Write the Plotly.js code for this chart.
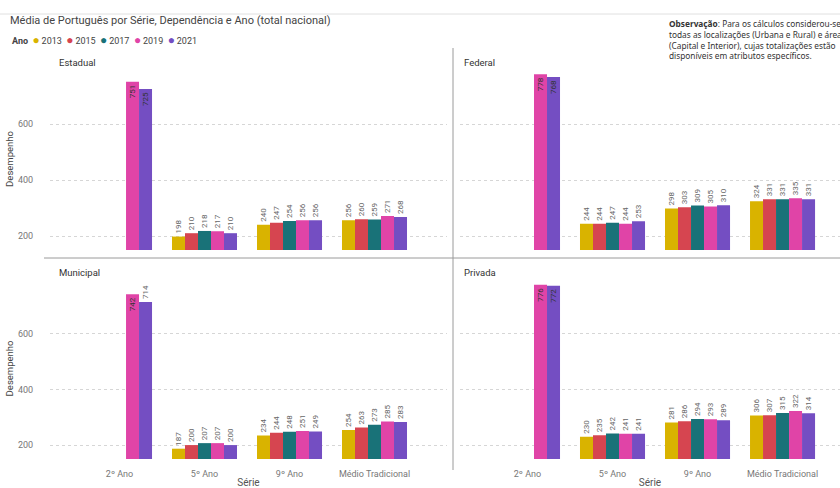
<!DOCTYPE html>
<html>
<head>
<meta charset="utf-8">
<script src="https://cdn.plot.ly/plotly-3.0.1.min.js"></script>
<style>html,body{margin:0;padding:0;background:#fff;}#chart{width:840px;height:488px;}</style>
</head>
<body>
<div id="chart"></div>
<script>
const categories = ['2º Ano', '5º Ano', '9º Ano', 'Médio Tradicional'];
const years = ['2013', '2015', '2017', '2019', '2021'];
const colors = ['#D9B300', '#D64550', '#197278', '#E044A7', '#744EC2'];
const panels = ['Estadual', 'Federal', 'Municipal', 'Privada'];
const yTicks = [200, 400, 600];

// rows = years (2013, 2015, 2017, 2019, 2021), columns = categories
const estadualValues = [
  [null, 198, 240, 256],
  [null, 210, 247, 260],
  [null, 218, 254, 259],
  [751, 217, 256, 271],
  [725, 210, 256, 268]
];
const federalValues = [
  [null, 244, 298, 324],
  [null, 244, 303, 331],
  [null, 247, 309, 331],
  [778, 244, 305, 335],
  [768, 253, 310, 331]
];
const municipalValues = [
  [null, 187, 234, 254],
  [null, 200, 244, 263],
  [null, 207, 248, 273],
  [742, 207, 251, 285],
  [714, 200, 249, 283]
];
const privadaValues = [
  [null, 230, 281, 306],
  [null, 235, 286, 307],
  [null, 242, 294, 315],
  [776, 241, 293, 322],
  [772, 241, 289, 314]
];
const panelValues = [estadualValues, federalValues, municipalValues, privadaValues];

const FONT = 'Roboto, "Noto Sans", sans-serif';
const traces = [];
panelValues.forEach((vals, p) => {
  const sfx = p === 0 ? '' : String(p + 1);
  years.forEach((yr, i) => {
    const y = vals[i];
    traces.push({
      type: 'bar',
      name: yr,
      x: categories,
      y: y,
      xaxis: 'x' + sfx,
      yaxis: 'y' + sfx,
      marker: {color: colors[i]},
      showlegend: false,
      texttemplate: '%{y}',
      textangle: -90,
      textposition: y.map(v => v == null ? 'none' : (v >= 720 ? 'inside' : 'outside')),
      insidetextanchor: 'end',
      constraintext: 'none',
      cliponaxis: false,
      insidetextfont: {family: FONT, size: 8, color: '#333'},
      outsidetextfont: {family: FONT, size: 8, color: '#666'},
      hoverinfo: 'x+y+name'
    });
  });
});

const leftDom = [50 / 840, 447 / 840];
const rightDom = [460 / 840, 1];
const topDom = [(488 - 250) / 488, (488 - 68) / 488];
const botDom = [(488 - 459) / 488, (488 - 278) / 488];
const leftRange = [-0.818, 3.853];
const rightRange = [-0.794, 3.676];
const yRange = [150, 800];

function xax(dom, range, anchor, showLabels) {
  return {
    domain: dom, range: range, anchor: anchor, type: 'category', showgrid: false, zeroline: false,
    showline: false, ticks: showLabels ? 'outside' : '', ticklen: 6, tickcolor: 'rgba(0,0,0,0)',
    showticklabels: showLabels,
    tickfont: {family: FONT, size: 9, color: '#777'},
    title: showLabels ? {text: 'Série', font: {family: FONT, size: 10, color: '#555'}, standoff: 10} : {text: ''},
    fixedrange: true
  };
}
function yax(dom, anchor, showLabels) {
  return {
    domain: dom, range: yRange, anchor: anchor, tickvals: yTicks, showgrid: true,
    gridcolor: '#d6d6d6', griddash: 'dot', gridwidth: 1, zeroline: false, showline: false,
    ticks: showLabels ? 'outside' : '', ticklen: 14, tickcolor: 'rgba(0,0,0,0)',
    showticklabels: showLabels,
    tickfont: {family: FONT, size: 9, color: '#777'},
    title: showLabels ? {text: 'Desempenho', font: {family: FONT, size: 9.5, color: '#444'}, standoff: 2} : {text: ''},
    fixedrange: true
  };
}

const legendText = '<b>Ano</b>  ' + years.map((yr, i) =>
  '<span style="color:' + colors[i] + ';font-size:12px">●</span>\u2009' + yr).join('  ');

const annotations = [
  {xref: 'paper', yref: 'paper', x: 10 / 840, y: (488 - 40) / 488, xanchor: 'left', yanchor: 'middle',
   text: legendText, showarrow: false, font: {family: FONT, size: 9, color: '#444'}},
  {xref: 'paper', yref: 'paper', x: 667 / 840, y: (488 - 16) / 488, xanchor: 'left', yanchor: 'top', align: 'left',
   text: '<b>Observação</b>: Para os cálculos considerou-se<br>todas as localizações (Urbana e Rural) e área<br>(Capital e Interior), cujas totalizações estão<br>disponíveis em atributos específicos.',
   showarrow: false, font: {family: '"Noto Sans", "Open Sans", sans-serif', size: 8.3, color: '#333'}}
];
const panelPos = [[57, 63], [462, 63], [57, 273], [462, 273]];
panels.forEach((name, p) => {
  annotations.push({xref: 'paper', yref: 'paper', x: panelPos[p][0] / 840, y: (488 - panelPos[p][1]) / 488,
    xanchor: 'left', yanchor: 'middle', text: name, showarrow: false,
    font: {family: FONT, size: 9.5, color: '#333'}});
});

const layout = {
  width: 840, height: 488,
  margin: {l: 0, r: 0, t: 0, b: 0},
  paper_bgcolor: '#fff', plot_bgcolor: '#fff',
  barmode: 'group', bargap: 0.235, bargroupgap: 0,
  showlegend: false,
  title: {text: 'Média de Português por Série, Dependência e Ano (total nacional)',
    x: 10 / 840, xanchor: 'left', y: (488 - 20) / 488, yanchor: 'middle',
    font: {family: FONT, size: 11, color: '#444'}},
  xaxis: xax(leftDom, leftRange, 'y', false),
  xaxis2: xax(rightDom, rightRange, 'y2', false),
  xaxis3: xax(leftDom, leftRange, 'y3', true),
  xaxis4: xax(rightDom, rightRange, 'y4', true),
  yaxis: yax(topDom, 'x', true),
  yaxis2: yax(topDom, 'x2', false),
  yaxis3: yax(botDom, 'x3', true),
  yaxis4: yax(botDom, 'x4', false),
  annotations: annotations,
  shapes: [
    {type: 'line', xref: 'paper', yref: 'paper', x0: 0, x1: 1, y0: (488 - 14) / 488, y1: (488 - 14) / 488,
     line: {color: '#e0e0e0', width: 1}},
    {type: 'line', xref: 'paper', yref: 'paper', x0: 44 / 840, x1: 1, y0: (488 - 258) / 488, y1: (488 - 258) / 488,
     line: {color: '#9a9a9a', width: 1}},
    {type: 'line', xref: 'paper', yref: 'paper', x0: 453 / 840, x1: 453 / 840, y0: (488 - 48) / 488, y1: (488 - 470) / 488,
     line: {color: '#9a9a9a', width: 1}}
  ]
};

Plotly.newPlot('chart', traces, layout, {displayModeBar: false, staticPlot: true});
</script>
</body>
</html>
